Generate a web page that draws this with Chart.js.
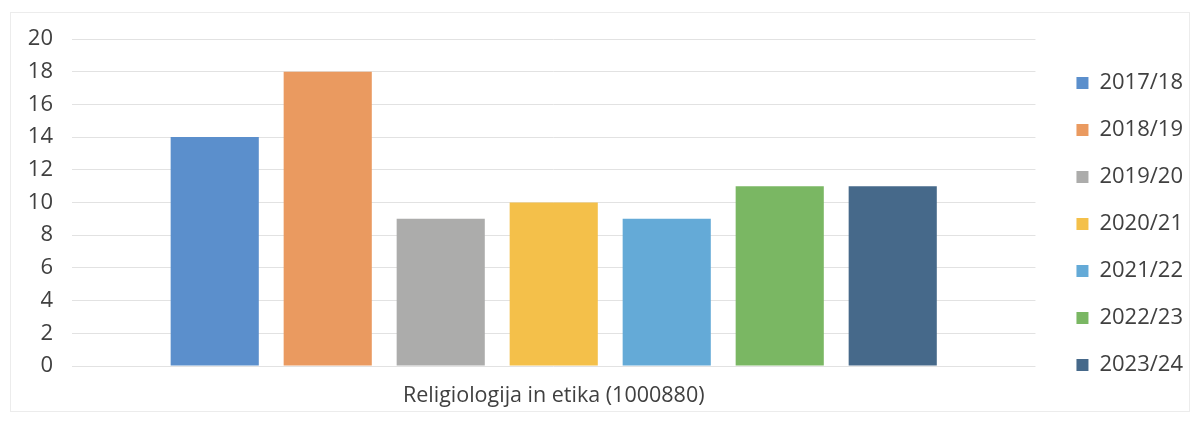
<!DOCTYPE html>
<html>
<head>
<meta charset="utf-8">
<script src="https://cdn.jsdelivr.net/npm/chart.js@4"></script>
<style>
    html, body { margin: 0; padding: 0; background: #ffffff; }
    #wrap { position: relative; width: 1197px; height: 421px; }
    #frame { position: absolute; left: 10px; top: 12px; width: 1178px; height: 398px; border: 1px solid #ececec; }
    canvas { position: absolute; left: 0; top: 0; }
</style>
</head>
<body>
<div id="wrap">
    <div id="frame"></div>
    <canvas id="chartCourse" width="1197" height="421"></canvas>
</div>
<script>
var categories = ["Religiologija in etika (1000880)"];
var years = ["2017/18", "2018/19", "2019/20", "2020/21", "2021/22", "2022/23", "2023/24"];
var values = [14, 18, 9, 10, 9, 11, 11];
var yTicks = [0, 2, 4, 6, 8, 10, 12, 14, 16, 18, 20];
var colors = ["#5b8fcc", "#ea9a60", "#acacab", "#f4c04a", "#64aad7", "#7ab763", "#46698a"];

function buildDatasets() {
    var sets = [];
    for (var i = 0; i < years.length; i++) {
        sets.push({
            label: years[i],
            data: [values[i]],
            backgroundColor: colors[i],
            borderWidth: 0,
            barPercentage: 0.78,
            categoryPercentage: 0.821
        });
    }
    return sets;
}

var font = { family: "'Open Sans', sans-serif", size: 22 };

// legend sits a bit away from the plot, so widen its box and push the items back
var legendExtra = 10;
var legendDx = 16;
var legendDy = -6;
var legendShift = {
    id: 'legendShift',
    afterInit: function (chart) {
        var legend = chart.legend;
        var fit = legend.fit;
        var draw = legend.draw;
        legend.fit = function () {
            fit.apply(this, arguments);
            this.width += legendExtra;
        };
        legend.draw = function () {
            var c = this.ctx;
            c.save();
            c.translate(legendDx, legendDy);
            draw.apply(this, arguments);
            c.restore();
        };
    }
};

var ctx = document.getElementById("chartCourse");
var myChart = new Chart(ctx, {
    type: 'bar',
    data: {
        labels: categories,
        datasets: buildDatasets()
    },
    plugins: [legendShift],
    options: {
        responsive: false,
        animation: false,
        layout: {
            padding: { left: 28, top: 39, right: 10, bottom: 0 }
        },
        plugins: {
            tooltip: { enabled: false },
            legend: {
                position: 'right',
                labels: {
                    boxWidth: 12,
                    boxHeight: 12,
                    padding: 25,
                    color: '#404040',
                    font: font
                }
            }
        },
        scales: {
            x: {
                afterFit: function (axis) { axis.height = 55; },
                grid: { display: false },
                border: { display: false },
                ticks: { color: '#404040', font: { family: font.family, size: 21.5 }, padding: 9 }
            },
            y: {
                min: 0,
                max: 20,
                afterFit: function (axis) { axis.width = 44; },
                afterBuildTicks: function (axis) {
                    axis.ticks = yTicks.map(function (v) { return { value: v }; });
                },
                grid: { color: '#e2e2e2', drawTicks: false },
                border: { display: false },
                ticks: { color: '#404040', font: font, padding: 19 }
            }
        }
    }
});
</script>
</body>
</html>
